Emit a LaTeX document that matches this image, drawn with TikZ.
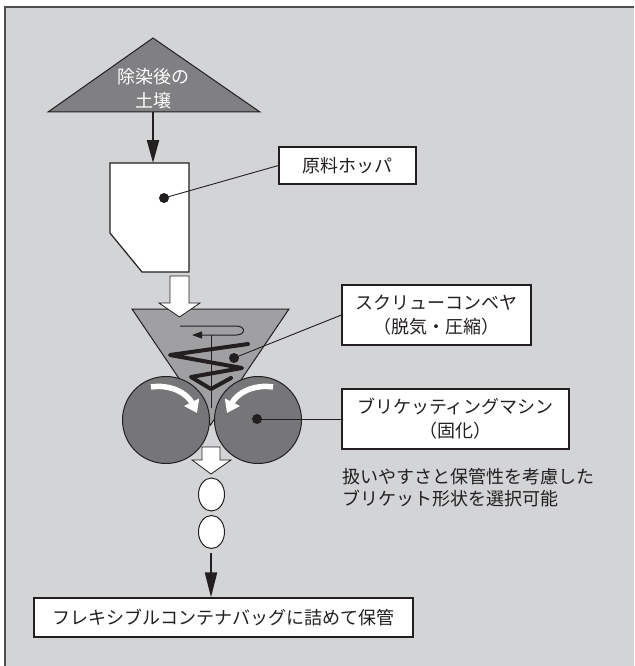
\documentclass[tikz,border=0pt]{standalone}
\usepackage{fontspec}
\setmainfont{Noto Sans CJK JP}
\usetikzlibrary{arrows.meta}
\definecolor{bg}{RGB}{211,212,214}
\definecolor{frameline}{RGB}{78,78,80}
\definecolor{darkfill}{RGB}{128,128,130}
\definecolor{midfill}{RGB}{160,160,162}
\definecolor{rollfill}{RGB}{118,118,120}
\definecolor{ink}{RGB}{35,31,32}
\begin{document}
\begin{tikzpicture}[x=1pt,y=-1pt,
  labelbox/.style={draw=ink, line width=1.2pt, fill=white, inner sep=0pt,
    align=center, text=ink, font=\fontsize{18}{24}\selectfont},
  shapeline/.style={draw=ink, line width=1pt},
  leader/.style={draw=ink, line width=0.9pt},
  dot/.style={fill=ink},
  flowarrow/.style={draw=ink, line width=2.2pt, -{Triangle[length=23pt,width=12pt]}},
  blockarrow/.style={draw=ink, line width=0.8pt, fill=white},
  turnarrow/.style={draw=white, line width=5.5pt, -{Triangle[length=12pt,width=16pt]}}]
\useasboundingbox (0,0) rectangle (634,666);
% panel
\fill[bg] (5,7) rectangle (634,666);
\draw[frameline, line width=1.5pt] (5,666) -- (5,7) -- (634,7);

% incoming soil heap
\filldraw[shapeline, fill=darkfill] (153,38) -- (260,112) -- (48,112) -- cycle;
\node[text=white, align=center, font=\fontsize{18}{24}\selectfont] (soil) at (153,89) {除染後の\\土壌};
\coordinate (soilbase) at (153,112);
\coordinate (hoppertop) at (153,163);
\draw[flowarrow] (soilbase) -- (hoppertop);

% feed hopper
\filldraw[shapeline, line width=1.2pt, fill=white] (110,163) -- (189,163) -- (189,272) -- (142,272) -- (110,233) -- cycle;
\coordinate (hopperdot) at (164,198);
\fill[dot] (hopperdot) circle (5);
\node[labelbox, minimum width=137pt, minimum height=37pt] (hopperlabel) at (347.5,165.5) {原料ホッパ};
\draw[leader] (hopperdot) -- (hopperlabel.west);

% screw conveyor body
\filldraw[shapeline, fill=midfill] (132,309) -- (289,309) -- (210.5,425) -- cycle;

% feed block arrow
\filldraw[blockarrow] (170,276) -- (189,276) -- (189,303) -- (200,303) -- (179.5,317) -- (159,303) -- (170,303) -- cycle;

% rollers
\coordinate (rollL) at (166,420);
\coordinate (rollR) at (258,420);
\filldraw[shapeline, fill=rollfill] (rollL) circle (43.5);
\filldraw[shapeline, fill=rollfill] (rollR) circle (43.5);

% screw shaft and rotation mark
\draw[ink, line width=1pt] (211,335) -- (211,408);
\draw[ink, line width=1pt, -{Triangle[length=10pt,width=7pt]}]
  (180,326) -- (236,326) .. controls (246,326) and (246,335) .. (236,335) -- (192,335);
% screw flight
\draw[ink, line width=4pt, line cap=round, line join=round]
  (248,344) -- (170,355) -- (242,368) -- (191,377) -- (211,389) -- (231,378);

% roller rotation arrows
\draw[turnarrow] (151,387) .. controls (170,384) and (187,393) .. (197,413);
\draw[turnarrow] (273,387) .. controls (254,384) and (237,393) .. (227,413);

% labels for conveyor and rollers
\coordinate (screwdot) at (234,358);
\fill[dot] (screwdot) circle (5);
\node[labelbox, minimum width=189pt, minimum height=60pt] (screwlabel) at (436.5,315) {スクリューコンベヤ\\（脱気・圧縮）};
\draw[leader] (screwdot) -- (screwlabel.west);

\coordinate (rolldot) at (257,419);
\fill[dot] (rolldot) circle (5);
\node[labelbox, minimum width=227pt, minimum height=60pt] (rolllabel) at (455.5,419) {ブリケッティングマシン\\（固化）};
\draw[leader] (rolldot) -- (rolllabel.west);

\node[anchor=west, align=left, text=ink, inner sep=0pt, font=\fontsize{18}{21.5}\selectfont] (note) at (342,487.5)
  {扱いやすさと保管性を考慮した\\ブリケット形状を選択可能};

% discharge block arrow
\filldraw[blockarrow] (202,447) -- (220,447) -- (220,460) -- (231,460) -- (211,474) -- (192,460) -- (202,460) -- cycle;

% briquettes
\filldraw[shapeline, fill=white] (211.5,494.5) ellipse (13 and 16.5);
\filldraw[shapeline, fill=white] (211.5,532) ellipse (13 and 16.5);

% storage
\node[labelbox, minimum width=379pt, minimum height=39pt] (bag) at (223.5,617.5) {フレキシブルコンテナバッグに詰めて保管};
\coordinate (bagfeed) at (211,553);
\draw[flowarrow, -{Triangle[length=25pt,width=12pt]}] (bagfeed) -- (bagfeed |- bag.north);
\end{tikzpicture}
\end{document}
